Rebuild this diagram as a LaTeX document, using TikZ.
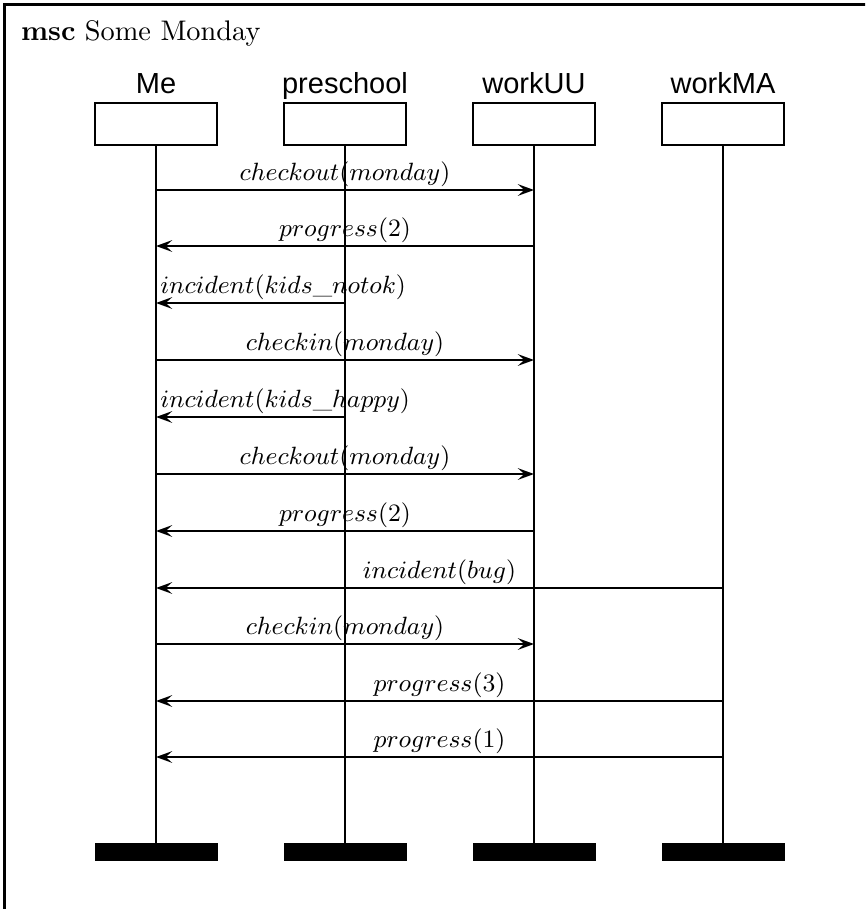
\documentclass[tikz,border=0pt]{standalone}
\usepackage{fontspec}
\newfontfamily\instfont{Liberation Sans}
\usetikzlibrary{arrows.meta}
\begin{document}
\begin{tikzpicture}[x=0.36pt,y=-0.36pt,
  headbox/.style={draw, line width=0.75pt, minimum width=43.9pt, minimum height=15.1pt, inner sep=0pt},
  endbar/.style={fill=black, draw=black, line width=0.2pt, minimum width=43.9pt, minimum height=6.3pt, inner sep=0pt},
  instname/.style={font=\instfont\fontsize{10.45}{12}\selectfont, anchor=base, inner sep=0pt},
  lifeline/.style={line width=0.75pt},
  msg/.style={line width=0.75pt, -{Stealth[length=5.8pt,width=4.2pt,inset=2.3pt]}},
  lbl/.style={font=\fontsize{9.05}{10}\selectfont, anchor=base, inner sep=0pt, yshift=3.3pt},
  lblleft/.style={font=\fontsize{9.05}{10}\selectfont, anchor=base west, inner sep=0pt, yshift=3.3pt, xshift=1.2pt}]
\useasboundingbox (0,0) rectangle (865,909);
\clip (0,0) rectangle (865,909);
\draw[line width=0.95pt] (4.5,4.5) rectangle (920,960);
\node[anchor=base west, inner sep=0pt, font=\fontsize{10.2}{12}\selectfont] (title) at (20.5,40) {\textbf{msc} Some Monday};
% instance heads
\node[headbox] (me) at (156,124) {};
\node[headbox] (pre) at (345,124) {};
\node[headbox] (uu) at (534,124) {};
\node[headbox] (ma) at (723,124) {};
\node[instname] (meN) at (156,93) {Me};
\node[instname] (preN) at (345,93) {preschool};
\node[instname] (uuN) at (534,93) {workUU};
\node[instname] (maN) at (723,93) {workMA};
% end bars
\node[endbar] (meE) at (156,852) {};
\node[endbar] (preE) at (345,852) {};
\node[endbar] (uuE) at (534,852) {};
\node[endbar] (maE) at (723,852) {};
% lifelines
\draw[lifeline] (me.south) -- (meE.north);
\draw[lifeline] (pre.south) -- (preE.north);
\draw[lifeline] (uu.south) -- (uuE.north);
\draw[lifeline] (ma.south) -- (maE.north);
% messages
\draw[msg] (me |- 0,190) -- node[lbl] (m1) {$checkout(monday)$} (uu |- 0,190);
\draw[msg] (uu |- 0,246) -- node[lbl] (m2) {$progress(2)$} (me |- 0,246);
\draw[msg] (pre |- 0,303) -- node[lblleft, at end] (m3) {$incident(kids\_notok)$} (me |- 0,303);
\draw[msg] (me |- 0,360) -- node[lbl] (m4) {$checkin(monday)$} (uu |- 0,360);
\draw[msg] (pre |- 0,417) -- node[lblleft, at end] (m5) {$incident(kids\_happy)$} (me |- 0,417);
\draw[msg] (me |- 0,474) -- node[lbl] (m6) {$checkout(monday)$} (uu |- 0,474);
\draw[msg] (uu |- 0,531) -- node[lbl] (m7) {$progress(2)$} (me |- 0,531);
\draw[msg] (ma |- 0,588) -- node[lbl] (m8) {$incident(bug)$} (me |- 0,588);
\draw[msg] (me |- 0,644) -- node[lbl] (m9) {$checkin(monday)$} (uu |- 0,644);
\draw[msg] (ma |- 0,701) -- node[lbl] (m10) {$progress(3)$} (me |- 0,701);
\draw[msg] (ma |- 0,757) -- node[lbl] (m11) {$progress(1)$} (me |- 0,757);
\end{tikzpicture}
\end{document}
